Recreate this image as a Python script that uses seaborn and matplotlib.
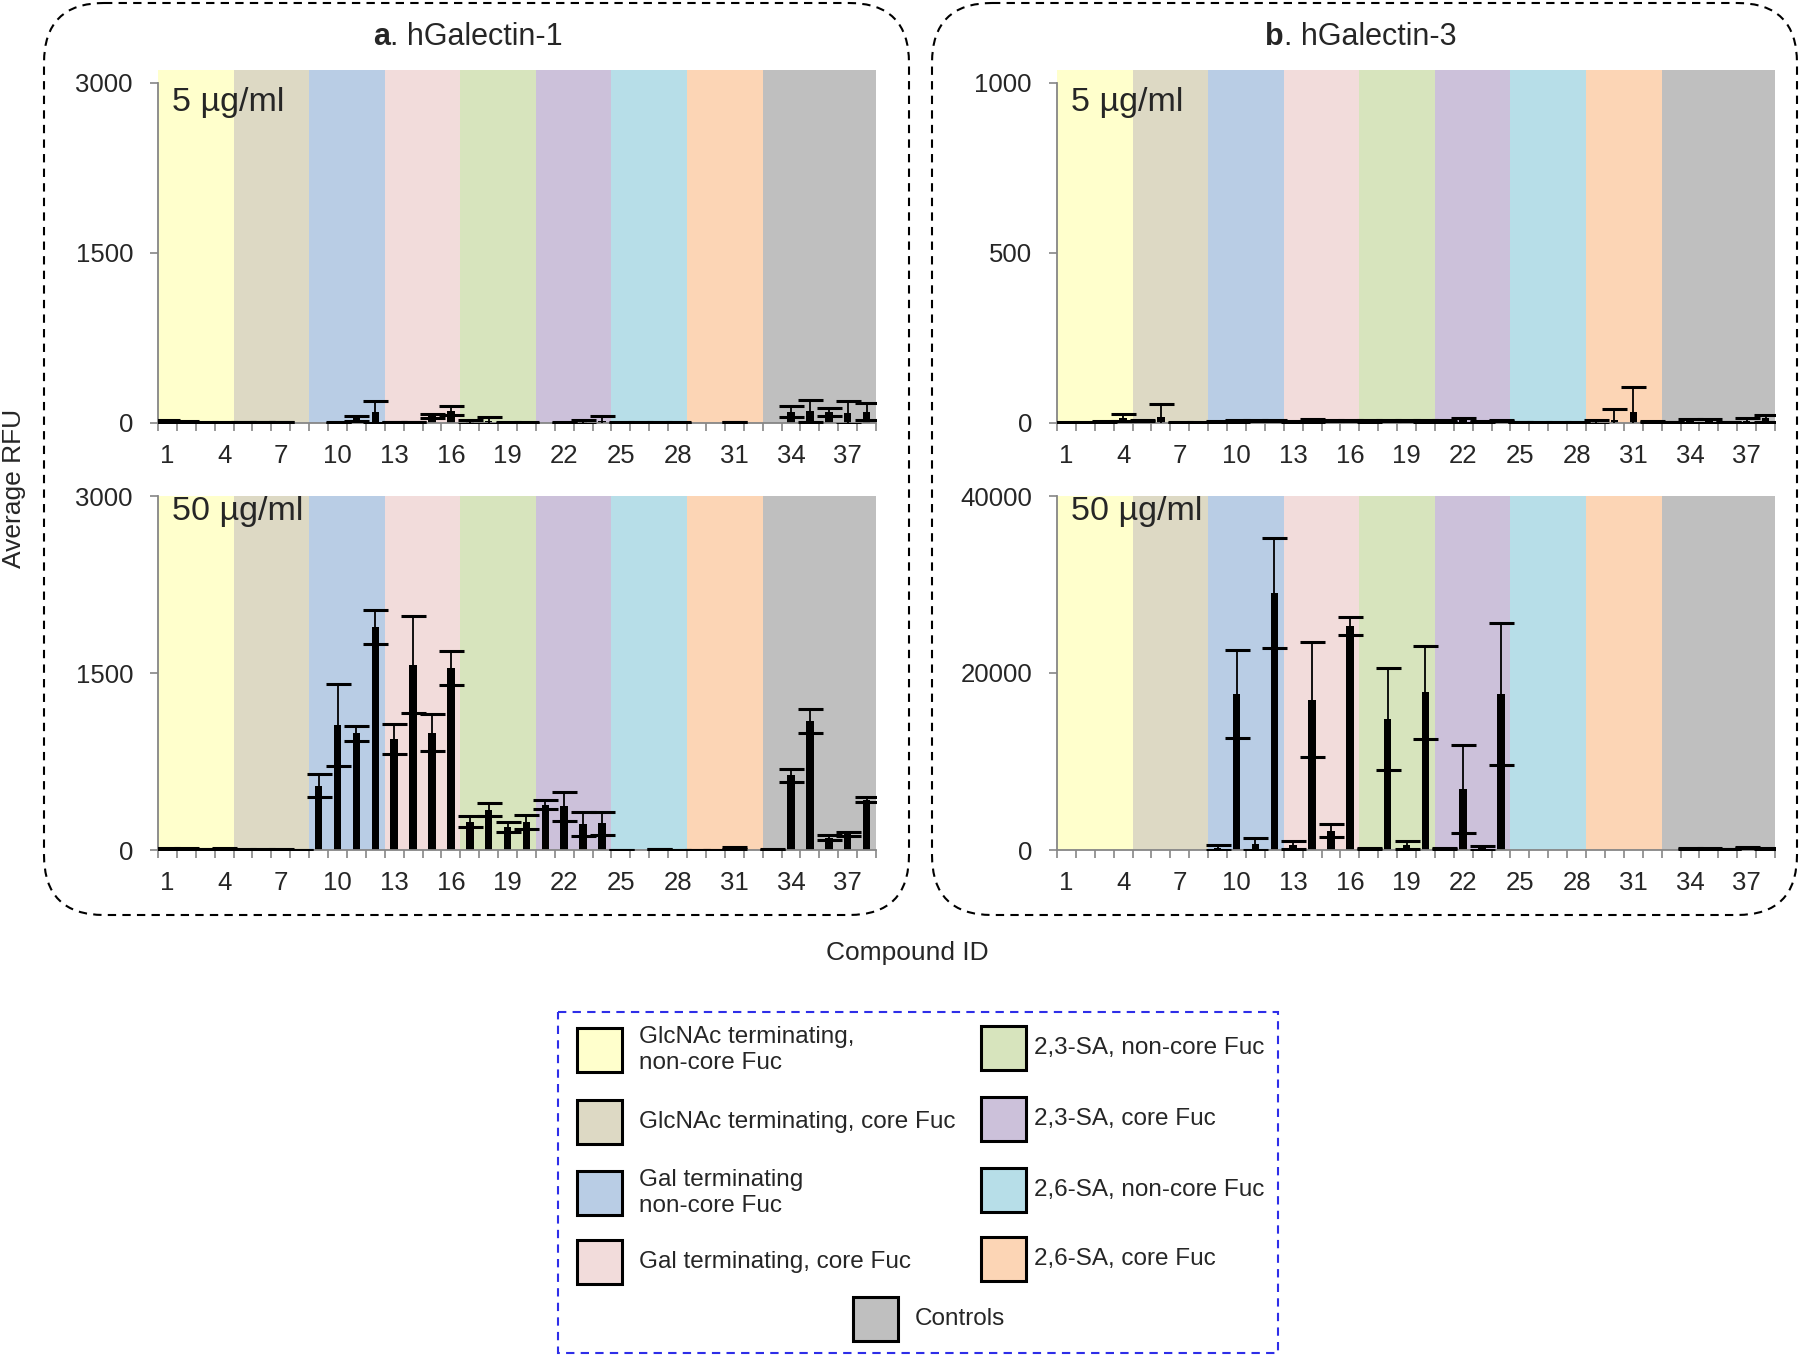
import numpy as np
import pandas as pd
import seaborn as sns
import matplotlib.pyplot as plt
from matplotlib.patches import FancyBboxPatch, Rectangle

# Compound IDs and the group they belong to (background bands)
compound_ids = list(range(1, 39))
group_sizes = [4, 4, 4, 4, 4, 4, 4, 4, 6]
group_colors = ['#FFFFCC', '#DDD9C4', '#B9CDE5', '#F2DCDB', '#D7E4BD',
                '#CCC1DA', '#B7DEE8', '#FCD5B5', '#BFBFBF']
group_labels = ['GlcNAc terminating,\nnon-core Fuc', 'GlcNAc terminating, core Fuc',
                'Gal terminating\nnon-core Fuc', 'Gal terminating, core Fuc',
                '2,3-SA, non-core Fuc', '2,3-SA, core Fuc',
                '2,6-SA, non-core Fuc', '2,6-SA, core Fuc', 'Controls']

# hGalectin-1, 5 ug/ml
gal1_low_mean = [15, 10, 4, 4, 8, 8, 8, 0, 0, 5, 40, 95, 8, 8, 60, 110, 10, 20, 4,
                 4, 0, 5, 10, 15, 5, 5, 5, 5, 0, 0, 10, 0, 0, 100, 105, 100, 90, 100]
gal1_low_sd = [15, 10, 2, 2, 2, 2, 2, 0, 0, 2, 25, 95, 2, 2, 15, 40, 20, 30, 2,
               2, 0, 2, 18, 45, 2, 2, 2, 2, 0, 0, 3, 0, 0, 50, 95, 35, 100, 75]
# hGalectin-1, 50 ug/ml
gal1_high_mean = [10, 12, 8, 15, 5, 6, 6, 3, 546, 1060, 990, 1890, 940, 1570, 995, 1540,
                  240, 340, 195, 240, 385, 370, 220, 225, 3, 0, 8, 3, 3, 3, 15, 0,
                  5, 634, 1093, 105, 133, 427]
gal1_high_sd = [3, 3, 3, 3, 2, 2, 2, 1, 100, 350, 65, 145, 125, 410, 155, 143,
                45, 55, 45, 60, 35, 120, 100, 95, 1, 0, 2, 1, 1, 1, 8, 0,
                2, 55, 100, 20, 18, 20]
# hGalectin-3, 5 ug/ml
gal3_low_mean = [2, 2, 5, 15, 8, 17, 2, 2, 4, 6, 8, 8, 5, 8, 7, 8, 6, 8, 8, 6,
                 6, 8, 5, 8, 3, 2, 2, 2, 3, 9, 32, 4, 3, 6, 6, 3, 7, 14]
gal3_low_sd = [1, 1, 2, 10, 2, 40, 1, 1, 1, 2, 2, 2, 2, 5, 2, 2, 2, 2, 2, 2,
               2, 8, 2, 2, 1, 1, 1, 1, 7, 31, 74, 1, 1, 5, 5, 1, 7, 10]
# hGalectin-3, 50 ug/ml
gal3_high_mean = [0, 0, 0, 0, 0, 0, 0, 0, 250, 17600, 700, 29000, 550, 17000, 2200, 25300,
                  120, 14800, 550, 17800, 120, 6900, 250, 17600, 0, 0, 0, 0, 0, 0, 0, 0,
                  0, 150, 150, 100, 300, 150]
gal3_high_sd = [0, 0, 0, 0, 0, 0, 0, 0, 300, 5000, 700, 6200, 450, 6500, 750, 1000,
                50, 5800, 450, 5300, 50, 5000, 200, 8000, 0, 0, 0, 0, 0, 0, 0, 0,
                0, 50, 50, 30, 80, 50]

GRAY = '#868686'

sns.set_theme(style="ticks")
plt.rcParams['font.family'] = ['Liberation Sans', 'DejaVu Sans']

fig = plt.figure(figsize=(18, 13.56), dpi=100)

# overlay in pixel coordinates for boxes, titles and legend
bg = fig.add_axes([0, 0, 1, 1])
bg.set_xlim(0, 1800)
bg.set_ylim(1356, 0)
bg.axis('off')


def draw_panel(ax, means, sds, ymax, conc, extend_top, label_y):
    means = np.array(means, dtype=float)
    sds = np.array(sds, dtype=float)
    pos = np.arange(len(compound_ids))

    # coloured group bands
    start = 0
    for size, col in zip(group_sizes, group_colors):
        ax.axvspan(start - 0.5, start + size - 0.5, color=col, lw=0, zorder=0)
        start += size

    df = pd.DataFrame({'compound': compound_ids, 'rfu': means})
    sns.barplot(data=df, x='compound', y='rfu', color='black', saturation=1,
                width=0.4, errorbar=None, linewidth=0, ax=ax, zorder=2)
    mask = means > 0
    ax.errorbar(pos[mask], means[mask], yerr=sds[mask], fmt='none', ecolor='black',
                elinewidth=1.3, capsize=9, capthick=2.2, zorder=3)

    ax.set_xlim(-0.5, len(compound_ids) - 0.5)
    ax.set_ylim(0, ymax * (1.038 if extend_top else 1.0))
    ax.set_xticks(pos[::3])
    ax.set_xticklabels([str(c) for c in compound_ids[::3]])
    ax.set_xticks(np.arange(-0.5, len(compound_ids)), minor=True)
    ax.set_yticks([0, ymax / 2, ymax])
    ax.set_yticklabels([str(int(v)) for v in [0, ymax / 2, ymax]])
    ax.tick_params(axis='x', which='major', length=0, pad=15, labelsize=18.5)
    ax.tick_params(axis='x', which='minor', length=6, width=1.2, color=GRAY,
                   direction='out', bottom=True)
    ax.tick_params(axis='y', length=6, width=1.2, color=GRAY, direction='out',
                   pad=12, labelsize=18.5, left=True)
    for s in ['top', 'right']:
        ax.spines[s].set_visible(False)
    for s in ['left', 'bottom']:
        ax.spines[s].set_color(GRAY)
        ax.spines[s].set_linewidth(1.3)
    ax.spines['left'].set_bounds(0, ymax)
    ax.set_xlabel('')
    ax.set_ylabel('')
    ax.text(0.02, label_y, conc, transform=ax.transAxes, fontsize=24.5,
            ha='left', va='center', zorder=5)


W, H = 1800, 1356


def axes_rect(x0, x1, y_top, y_bot):
    return [x0 / W, 1 - y_bot / H, (x1 - x0) / W, (y_bot - y_top) / H]


ax_a1 = fig.add_axes(axes_rect(158, 876, 70, 423))
ax_a2 = fig.add_axes(axes_rect(158, 876, 496, 850))
ax_b1 = fig.add_axes(axes_rect(1057, 1775, 70, 423))
ax_b2 = fig.add_axes(axes_rect(1057, 1775, 496, 850))

draw_panel(ax_a1, gal1_low_mean, gal1_low_sd, 3000, '5 µg/ml', True, 0.907)
draw_panel(ax_a2, gal1_high_mean, gal1_high_sd, 3000, '50 µg/ml', False, 0.955)
draw_panel(ax_b1, gal3_low_mean, gal3_low_sd, 1000, '5 µg/ml', True, 0.907)
draw_panel(ax_b2, gal3_high_mean, gal3_high_sd, 40000, '50 µg/ml', False, 0.955)

# dashed rounded panel boxes
for x0, x1 in [(44, 909), (932, 1797)]:
    bg.add_patch(FancyBboxPatch((x0, 3), x1 - x0, 912,
                                boxstyle="round,pad=0,rounding_size=60",
                                fill=False, ec='black', lw=1.5, ls=(0, (4, 3))))

# panel titles
bg.text(390, 37, 'a', fontsize=22, fontweight='bold', ha='right', va='center')
bg.text(390, 37, '. hGalectin-1', fontsize=22, ha='left', va='center')
bg.text(1284, 37, 'b', fontsize=22, fontweight='bold', ha='right', va='center')
bg.text(1284, 37, '. hGalectin-3', fontsize=22, ha='left', va='center')

bg.text(14, 488, 'Average RFU', fontsize=19, rotation=90, ha='center', va='center')
bg.text(907, 953, 'Compound ID', fontsize=19, ha='center', va='center')

# legend
bg.add_patch(Rectangle((558, 1012), 720, 341, fill=False, ec='#2E2EE8', lw=1.5,
                       ls=(0, (4, 3))))
legend_spots = [(577, 1050, 639), (577, 1122, 639), (577, 1193, 639), (577, 1262, 639),
                (981, 1048, 1034), (981, 1119, 1034), (981, 1190, 1034), (981, 1259, 1034),
                (853, 1319, 915)]
for (px, py, tx), col, lab in zip(legend_spots, group_colors, group_labels):
    bg.add_patch(Rectangle((px, py - 22), 45, 44, fc=col, ec='black', lw=2.2))
    bg.text(tx, py, lab, fontsize=17.5, ha='left', va='center', linespacing=1.25)

plt.savefig('out.png', dpi=100)
